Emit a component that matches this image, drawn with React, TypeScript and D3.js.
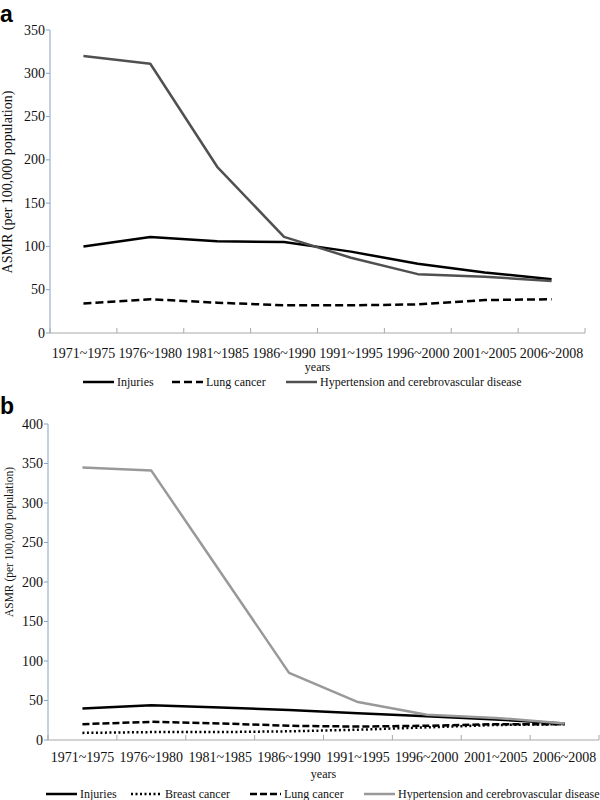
import React from "react";
import * as d3 from "d3";

const periods = ["1971~1975", "1976~1980", "1981~1985", "1986~1990", "1991~1995", "1996~2000", "2001~2005", "2006~2008"];

// Panel a
const aInjuries = [100, 111, 106, 105, 94, 80, 70, 62];
const aLung = [34, 39, 35, 32, 32, 33, 38, 39];
const aHyper = [320, 311, 192, 111, 87, 68, 65, 60];
const aTicks = [0, 50, 100, 150, 200, 250, 300, 350];

// Panel b
const bInjuries = [40, 44, 41, 38, 34, 30, 26, 21];
const bBreast = [9, 10, 10, 11, 13, 16, 19, 20];
const bLung = [20, 23, 21, 18, 17, 18, 20, 20];
const bHyper = [345, 341, 213, 85, 48, 32, 28, 21];
const bTicks = [0, 50, 100, 150, 200, 250, 300, 350, 400];

const SERIF = "'Liberation Serif', 'Times New Roman', serif";
const SANS = "'Liberation Sans', Arial, sans-serif";
const YAXIS = "#89a3cb";
const XAXIS = "#a8a8a8";

type Series = { label: string; values: number[]; color: string; dash?: string; width: number };

type PanelProps = {
  letter: string; letterY: number;
  x0: number; x1: number; yTop: number; yBottom: number; yMax: number; ticks: number[];
  series: Series[]; titleSize: number; titleX: number; titleY: number;
  labelY: number; yearsY: number; legendY: number; legendX: number[];
};

function Panel(props: PanelProps) {
  const x = d3.scaleBand<string>().domain(periods).range([props.x0, props.x1]);
  const y = d3.scaleLinear().domain([0, props.yMax]).range([props.yBottom, props.yTop]);
  const line = (vals: number[]) =>
    d3.line<number>().x((_, i) => (x(periods[i]) as number) + x.bandwidth() / 2).y((v) => y(v))(vals) as string;
  const bounds = periods.map((p) => x(p) as number).concat([props.x1]);
  return (
    <g>
      <text x={0} y={props.letterY} fontFamily={SANS} fontWeight="bold" fontSize={23} fill="#000">{props.letter}</text>
      <line x1={props.x0} x2={props.x0} y1={y(props.yMax)} y2={y(0)} stroke={YAXIS} strokeWidth={1} />
      {props.ticks.map((t) => (
        <g key={t}>
          <line x1={props.x0 - 4} x2={props.x0} y1={y(t)} y2={y(t)} stroke={YAXIS} strokeWidth={1} />
          <text x={props.x0 - 5} y={y(t)} dy="0.33em" textAnchor="end" fontFamily={SERIF} fontSize={14} fill="#111">{t}</text>
        </g>
      ))}
      <text transform={`translate(${props.titleX},${props.titleY}) rotate(-90)`} textAnchor="middle" fontFamily={SERIF} fontSize={props.titleSize} fill="#111">
        ASMR (per 100,000 population)
      </text>
      <line x1={props.x0} x2={props.x1} y1={y(0)} y2={y(0)} stroke={XAXIS} strokeWidth={1} />
      {bounds.map((b, i) => (
        <line key={i} x1={b} x2={b} y1={y(0)} y2={y(0) - 5} stroke={XAXIS} strokeWidth={1} />
      ))}
      {periods.map((p) => (
        <text key={p} x={(x(p) as number) + x.bandwidth() / 2} y={props.labelY} textAnchor="middle" fontFamily={SERIF} fontSize={14} fill="#111">{p}</text>
      ))}
      <text x={(props.x0 + props.x1) / 2} y={props.yearsY} textAnchor="middle" fontFamily={SERIF} fontSize={12} fill="#111">years</text>
      {props.series.map((s) => (
        <path key={s.label} d={line(s.values)} fill="none" stroke={s.color} strokeWidth={s.width} strokeDasharray={s.dash} strokeLinejoin="round" />
      ))}
      {props.series.map((s, i) => (
        <g key={"lg" + s.label}>
          <line x1={props.legendX[i]} x2={props.legendX[i] + 31} y1={props.legendY - 4} y2={props.legendY - 4} stroke={s.color} strokeWidth={s.width} strokeDasharray={s.dash} />
          <text x={props.legendX[i] + 34} y={props.legendY} fontFamily={SERIF} fontSize={12} fill="#111">{s.label}</text>
        </g>
      ))}
    </g>
  );
}

export default function App() {
  const aSeries: Series[] = [
    { label: "Injuries", values: aInjuries, color: "#000", width: 2.5 },
    { label: "Lung cancer", values: aLung, color: "#000", width: 2.5, dash: "8,4" },
    { label: "Hypertension and cerebrovascular disease", values: aHyper, color: "#505050", width: 2.5 },
  ];
  const bSeries: Series[] = [
    { label: "Injuries", values: bInjuries, color: "#000", width: 2.5 },
    { label: "Breast cancer", values: bBreast, color: "#000", width: 2.5, dash: "2,2.5" },
    { label: "Lung cancer", values: bLung, color: "#000", width: 2.5, dash: "7,3" },
    { label: "Hypertension and cerebrovascular disease", values: bHyper, color: "#999999", width: 2.5 },
  ];
  return (
    <svg width={600} height={800} style={{ position: "absolute", left: 0, top: 0, background: "#fff" }}>
      <rect width={600} height={800} fill="#fff" />
      <Panel letter="a" letterY={22} x0={50} x1={585} yTop={30} yBottom={333} yMax={350} ticks={aTicks}
        series={aSeries} titleSize={14} titleX={12} titleY={182}
        labelY={358} yearsY={371} legendY={386} legendX={[83, 172, 286]} />
      <Panel letter="b" letterY={414} x0={48} x1={599} yTop={424} yBottom={740} yMax={400} ticks={bTicks}
        series={bSeries} titleSize={11.5} titleX={13} titleY={542}
        labelY={762} yearsY={778} legendY={798} legendX={[46, 131, 250, 364]} />
    </svg>
  );
}
